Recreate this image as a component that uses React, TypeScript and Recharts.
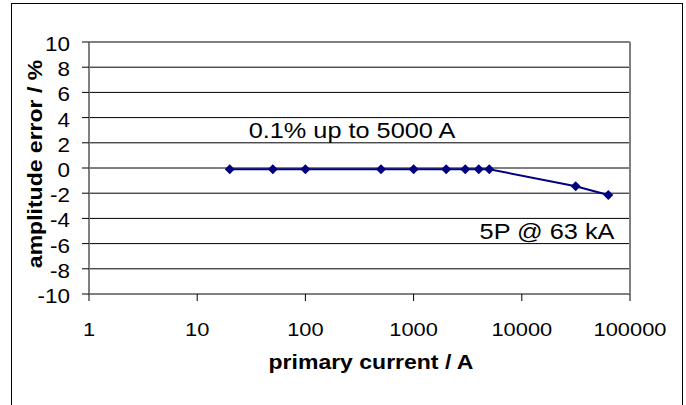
import { LineChart, Line, XAxis, YAxis, CartesianGrid, ReferenceLine } from 'recharts';

const currents = [20, 50, 100, 500, 1000, 2000, 3000, 4000, 5000, 31500, 63000];
const errors = [-0.1, -0.1, -0.1, -0.1, -0.1, -0.1, -0.1, -0.1, -0.1, -1.45, -2.15];
const xTicks = [1, 10, 100, 1000, 10000, 100000];
const yTicks = [-10, -8, -6, -4, -2, 0, 2, 4, 6, 8, 10];

const data = currents.map((current, i) => ({ current, error: errors[i] }));

const NAVY = '#000080';
const FRAME = '#808080';
const FONT = '"Liberation Sans", Arial, sans-serif';
// the source picture is stretched sideways, so every text is widened a bit
const SX = 1.15;

const Diamond = (props: any) => {
  const { cx, cy, index } = props;
  if (cx == null || cy == null) return <g key={index} />;
  const r = 5;
  return (
    <path
      key={index}
      d={`M${cx},${cy - r}L${cx + r},${cy}L${cx},${cy + r}L${cx - r},${cy}Z`}
      fill={NAVY}
    />
  );
};

const XTick = ({ x, y, payload }: any) => (
  <g transform={`translate(${x},${y}) scale(${SX},1)`}>
    <text textAnchor="middle" dy="0.71em" fontFamily={FONT} fontSize={19} fill="#000">
      {payload.value}
    </text>
  </g>
);

const YTick = ({ x, y, payload }: any) => (
  <g transform={`translate(${x},${y + 2}) scale(${SX},1)`}>
    <text textAnchor="end" dy="0.355em" fontFamily={FONT} fontSize={19.5} fill="#000">
      {payload.value}
    </text>
  </g>
);

const Stretched = ({ x, y, size, bold, rotate, children }: any) => (
  <g transform={`translate(${x},${y})${rotate ? ` rotate(${rotate})` : ''} scale(${SX},1)`}>
    <text textAnchor="middle" fontFamily={FONT} fontSize={size} fontWeight={bold ? 'bold' : 'normal'} fill="#000">
      {children}
    </text>
  </g>
);

export default function App() {
  return (
    <div style={{ position: 'absolute', left: 0, top: 0, width: 686, height: 405, background: '#fff' }}>
      <div
        style={{
          position: 'absolute',
          left: 11,
          top: 3,
          width: 670,
          height: 410,
          borderLeft: '1px solid #000',
          borderTop: '1px solid #000',
          borderRight: '1px solid #000',
        }}
      />
      <div style={{ position: 'absolute', left: 0, top: 0 }}>
        <LineChart width={686} height={405} data={data} margin={{ top: 42, right: 56, left: 11, bottom: 0 }}>
          <CartesianGrid horizontal vertical={false} stroke="#000" strokeOpacity={1} />
          <XAxis
            type="number"
            dataKey="current"
            scale="log"
            domain={[1, 100000]}
            ticks={xTicks}
            allowDataOverflow
            height={111}
            tickSize={7}
            tickMargin={22}
            axisLine={{ stroke: FRAME, strokeWidth: 2 }}
            tickLine={{ stroke: '#000' }}
            tick={<XTick />}
          />
          <YAxis
            type="number"
            domain={[-10, 10]}
            ticks={yTicks}
            interval={0}
            width={78}
            tickSize={7}
            tickMargin={12}
            axisLine={{ stroke: FRAME, strokeWidth: 2 }}
            tickLine={{ stroke: '#000' }}
            tick={<YTick />}
          />
          <ReferenceLine y={10} stroke={FRAME} strokeWidth={2} />
          <ReferenceLine x={100000} stroke={FRAME} strokeWidth={2} />
          <Line
            type="linear"
            dataKey="error"
            stroke={NAVY}
            strokeWidth={2}
            dot={Diamond}
            activeDot={false}
            isAnimationActive={false}
          />
          <Stretched x={352} y={138} size={22}>0.1% up to 5000 A</Stretched>
          <Stretched x={547} y={239} size={22}>5P @ 63 kA</Stretched>
          <Stretched x={371} y={369} size={20} bold>primary current / A</Stretched>
          <Stretched x={42} y={164} size={20} bold rotate={-90}>amplitude error / %</Stretched>
        </LineChart>
      </div>
    </div>
  );
}
